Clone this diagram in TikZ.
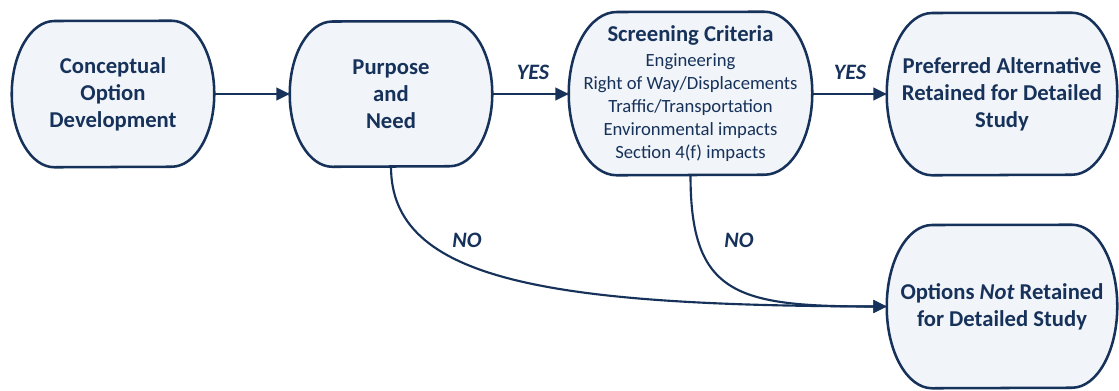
\documentclass[tikz,border=0pt]{standalone}
\usepackage{fontspec}
\setmainfont{Carlito}
\usetikzlibrary{arrows.meta}
\definecolor{navy}{HTML}{17325A}
\definecolor{boxfill}{HTML}{F1F4F8}
\pgfdeclarelayer{background}
\pgfsetlayers{background,main}

\tikzset{
  stage/.style={shape=rectangle, inner sep=0pt, align=center, text=navy,
    font=\fontsize{17}{20.25}\selectfont\bfseries},
  critbox/.style={shape=rectangle, inner sep=0pt, align=center, text=navy,
    font=\fontsize{14}{17.25}\selectfont},
  capsule/.style={draw=navy, fill=boxfill, line width=1.9pt},
  flow/.style={draw=navy, line width=1.6pt, -{Triangle[length=10pt,width=9.5pt]}},
  answer/.style={text=navy, inner sep=0pt, font=\fontsize{16.5}{20}\selectfont\bfseries\itshape},
}

% outline with elliptical ends: node, horizontal radius, half height
\newcommand\capsuleoutline[3]{%
  \path[capsule] (#1.west)
    arc[start angle=180, end angle=90, x radius=#2, y radius=#3]
    -- ([xshift=-#2]#1.north east)
    arc[start angle=90, end angle=0, x radius=#2, y radius=#3]
    arc[start angle=0, end angle=-90, x radius=#2, y radius=#3]
    -- ([xshift=#2]#1.south west)
    arc[start angle=270, end angle=180, x radius=#2, y radius=#3]
    -- cycle;}

\begin{document}
\begin{tikzpicture}[x=0.75pt, y=-0.75pt]
  \useasboundingbox (0,0) rectangle (1119,390);

  % stages
  \node[stage, minimum width=151.5pt, minimum height=109.5pt] (concept) at (113,94)
    {Conceptual\\Option\\Development};
  \node[stage, minimum width=151.5pt, minimum height=108.75pt] (purpose) at (391,94)
    {Purpose\\and\\Need};
  \node[critbox, minimum width=182.25pt, minimum height=122.25pt] (screen) at (690.5,93.5)
    {{\fontsize{17}{20.25}\selectfont\bfseries Screening Criteria}\\[1.5pt]
     Engineering\\Right of Way/Displacements\\Traffic/Transportation\\
     Environmental impacts\\Section 4(f) impacts};
  \node[stage, minimum width=172.5pt, minimum height=121.5pt] (preferred) at (1002,94)
    {Preferred Alternative\\Retained for Detailed\\Study};
  \node[stage, minimum width=172.5pt, minimum height=122.25pt] (rejected) at (1002,306.5)
    {Options \textit{Not} Retained\\for Detailed Study};

  \begin{pgfonlayer}{background}
    \fill[white] (0,0) rectangle (1119,390);
    \capsuleoutline{concept}{32pt}{54.75pt}
    \capsuleoutline{purpose}{32pt}{54.375pt}
    \capsuleoutline{screen}{36pt}{61.125pt}
    \capsuleoutline{preferred}{34pt}{60.75pt}
    \capsuleoutline{rejected}{34pt}{61.125pt}
  \end{pgfonlayer}

  % connectors
  \draw[flow] (concept.east) -- (purpose.west);
  \draw[flow] (purpose.east) -- (purpose.east -| screen.west);
  \draw[flow] (preferred.west -| screen.east) -- (preferred.west);
  \draw[flow] (purpose.south) .. controls +(0,114) and +(-337,-1) .. (rejected.west);
  \draw[flow] (screen.south) .. controls +(0,120) and +(-150,0) .. (rejected.west);

  % answers
  \node[answer] (yes1) at (533,72) {YES};
  \node[answer] (yes2) at (850,72) {YES};
  \node[answer] (no1) at (467,240) {NO};
  \node[answer] (no2) at (739,240) {NO};
\end{tikzpicture}
\end{document}
